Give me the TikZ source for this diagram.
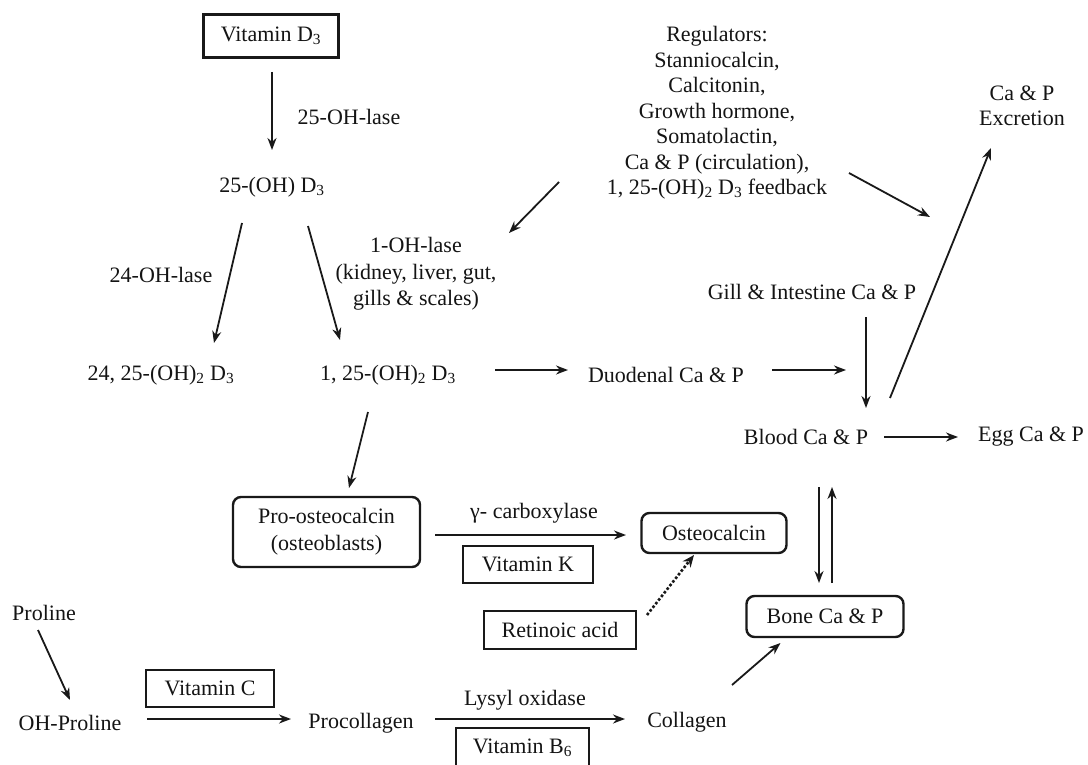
\documentclass[tikz,border=0pt]{standalone}
\usepackage{fontspec}
\setmainfont{Liberation Serif}
\usetikzlibrary{arrows.meta}
\begin{document}
\begin{tikzpicture}[x=1pt,y=-1pt,
  every node/.style={font=\fontsize{22}{25.5}\selectfont, inner sep=0pt, align=center, text=black!92},
  arr/.style={line width=1.8pt, draw=black!90, -{Stealth[length=12pt,width=9pt]}},
  dotarr/.style={line width=2.6pt, draw=black!90, dotted, -{Stealth[length=12pt,width=10pt]}},
  sqbox/.style={draw=black!90, line width=2.4pt},
  rbox/.style={draw=black!90, line width=2.4pt, rounded corners=8pt}]
\fill[white] (0,0) rectangle (1088,765);
\useasboundingbox (0,0) rectangle (1088,765);

% nodes
\node[sqbox, minimum width=135pt, minimum height=43pt] (vitD) at (271,36) {Vitamin D\textsubscript{3}};
\node (oh25) at (272,187) {25-(OH) D\textsubscript{3}};
\node (lab25) at (349,117) {25-OH-lase};
\node (lab24) at (161,275) {24-OH-lase};
\node[font=\fontsize{22}{26.5}\selectfont] (lab1) at (416,274) {1-OH-lase\\(kidney, liver, gut,\\gills \& scales)};
\node (d2425) at (161,375) {24, 25-(OH)\textsubscript{2} D\textsubscript{3}};
\node (d125) at (388,375) {1, 25-(OH)\textsubscript{2} D\textsubscript{3}};
\node (reg) at (717,113) {Regulators:\\Stanniocalcin,\\Calcitonin,\\Growth hormone,\\Somatolactin,\\Ca \& P (circulation),\\1, 25-(OH)\textsubscript{2} D\textsubscript{3} feedback};
\node (excr) at (1022,106) {Ca \& P\\Excretion};
\node (gill) at (812,292) {Gill \& Intestine Ca \& P};
\node (duod) at (666,375) {Duodenal Ca \& P};
\node (blood) at (806,437) {Blood Ca \& P};
\node (egg) at (1031,437) {Egg Ca \& P};
\node[rbox, minimum width=187pt, minimum height=70pt, font=\fontsize{22}{27}\selectfont] (prost) at (326.5,532) {Pro-osteocalcin\\(osteoblasts)};
\node (gamma) at (534,513) {γ- carboxylase};
\node[sqbox, minimum width=130pt, minimum height=37pt] (vitK) at (528,564.5) {Vitamin K};
\node[rbox, minimum width=145pt, minimum height=40pt] (osteo) at (714,533) {Osteocalcin};
\node[sqbox, minimum width=152pt, minimum height=38pt] (retin) at (560,630) {Retinoic acid};
\node[rbox, minimum width=157pt, minimum height=41pt] (bone) at (825,616.5) {Bone Ca \& P};
\node (proline) at (44,613) {Proline};
\node (ohpro) at (70,723) {OH-Proline};
\node[sqbox, minimum width=128pt, minimum height=37pt] (vitC) at (210,688.5) {Vitamin C};
\node (procol) at (361,723) {Procollagen};
\node (lysyl) at (525,700) {Lysyl oxidase};
\node[sqbox, minimum width=133pt, minimum height=40pt] (vitB6) at (522.5,748) {Vitamin B\textsubscript{6}};
\node (collagen) at (687,722) {Collagen};
\coordinate (regT) at (930,217);

% connectors
\draw[arr] ([shift={(1,36)}]vitD.center) -- ([shift={(0,-37)}]oh25.center);
\draw[arr] ([shift={(-30,36)}]oh25.center) -- ([shift={(53,-32)}]d2425.center);
\draw[arr] ([shift={(36,39)}]oh25.center) -- ([shift={(-48,-35)}]d125.center);
\draw[arr] ([shift={(-158,69)}]reg.center) -- ([shift={(93,-41)}]lab1.center);
\draw[arr] ([shift={(132,60)}]reg.center) -- (regT);
\draw[arr] ([shift={(107,-5)}]d125.center) -- ([shift={(-98,-5)}]duod.center);
\draw[arr] ([shift={(106,-5)}]duod.center) -- ([shift={(40,-67)}]blood.center);
\draw[arr] ([shift={(54,25)}]gill.center) -- ([shift={(60,-29)}]blood.center);
\draw[arr] ([shift={(84,-39)}]blood.center) -- ([shift={(-31,42)}]excr.center);
\draw[arr] ([shift={(78,0)}]blood.center) -- ([shift={(-73,0)}]egg.center);
\draw[arr] ([shift={(13,50)}]blood.center) -- ([shift={(-6,-33.5)}]bone.center);
\draw[arr] ([shift={(7,-33.5)}]bone.center) -- ([shift={(26,50)}]blood.center);
\draw[arr] ([shift={(-20,37)}]d125.center) -- ([shift={(22.5,-44)}]prost.center);
\draw[arr] ([shift={(108.5,3)}]prost.center) -- ([shift={(-88,2)}]osteo.center);
\draw[dotarr] ([shift={(87,-15)}]retin.center) -- ([shift={(-20,22)}]osteo.center);
\draw[arr] ([shift={(-6,17)}]proline.center) -- ([shift={(0,-23)}]ohpro.center);
\draw[arr] ([shift={(77,-4)}]ohpro.center) -- ([shift={(-70,-4)}]procol.center);
\draw[arr] ([shift={(74,-4)}]procol.center) -- ([shift={(-62,-3)}]collagen.center);
\draw[arr] ([shift={(45,-37)}]collagen.center) -- ([shift={(-44.5,26.5)}]bone.center);
\end{tikzpicture}
\end{document}
